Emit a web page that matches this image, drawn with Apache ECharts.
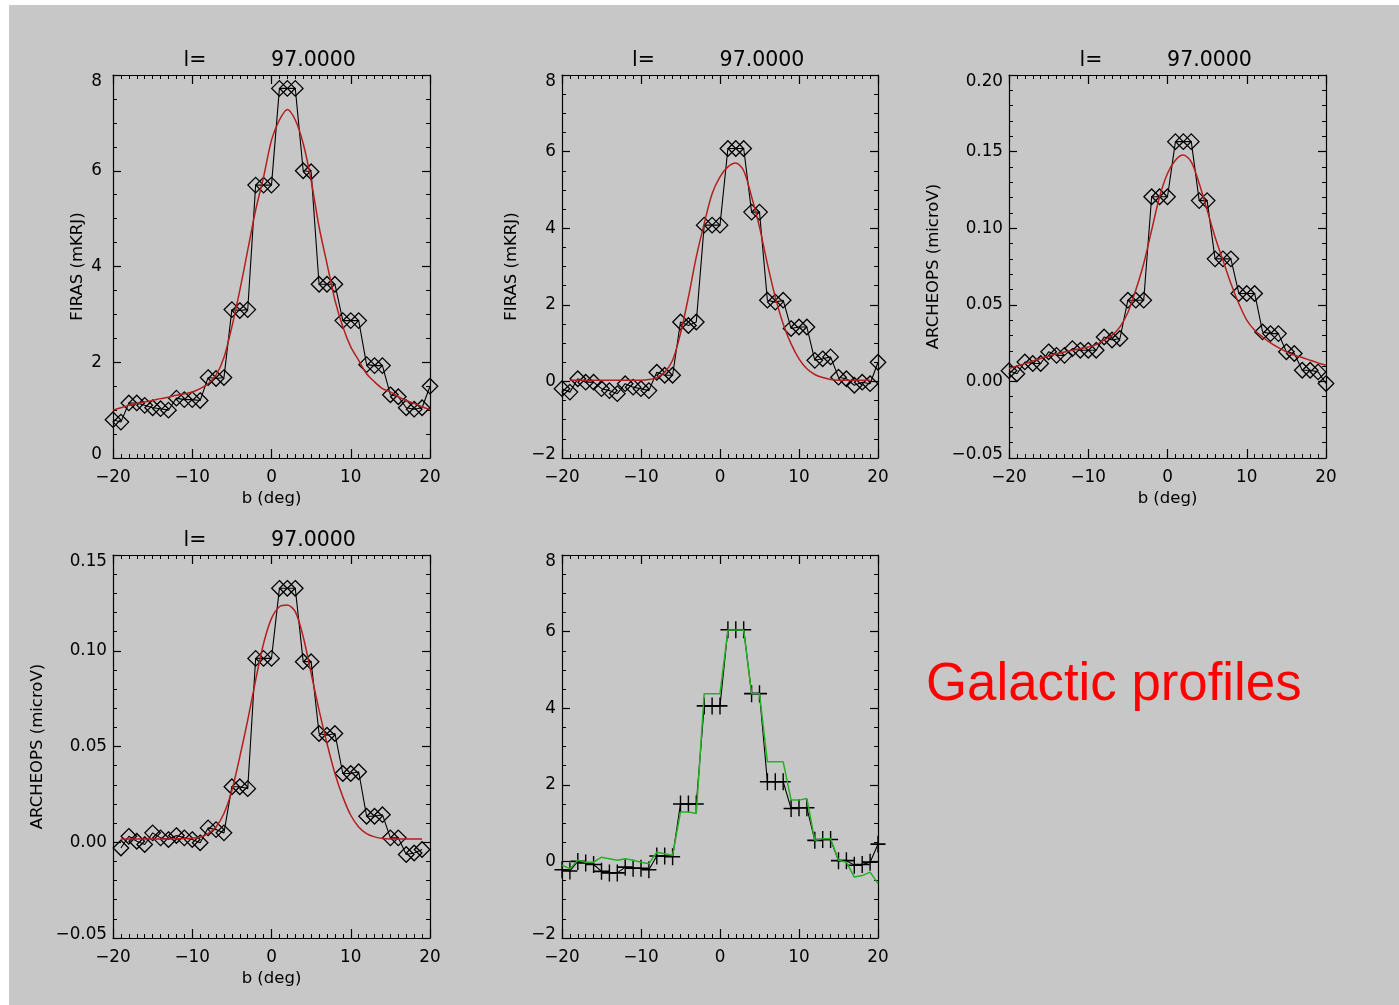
<!DOCTYPE html>
<html>
<head>
<meta charset="utf-8">
<script src="https://cdn.jsdelivr.net/npm/echarts@6/dist/echarts.min.js"></script>
<style>
html,body{margin:0;padding:0;background:#fff;}
#chart{width:1399px;height:1005px;}
</style>
</head>
<body>
<div id="chart"></div>
<script>
// ---------------- data ----------------
const bFull = [-20,-19,-18,-17,-16,-15,-14,-13,-12,-11,-10,-9,-8,-7,-6,-5,-4,-3,-2,-1,0,1,2,3,4,5,6,7,8,9,10,11,12,13,14,15,16,17,18,19,20];
const bInner = [-19,-18,-17,-16,-15,-14,-13,-12,-11,-10,-9,-8,-7,-6,-5,-4,-3,-2,-1,0,1,2,3,4,5,6,7,8,9,10,11,12,13,14,15,16,17,18,19];
const xTicks = [-20,-10,0,10,20];

// panel 1 : FIRAS
const firas1 = [0.80,0.75,1.15,1.15,1.10, 1.05,1.03,1.00,1.25,1.22, 1.22,1.20,1.68,1.66,1.68, 3.10,3.08,3.10,5.70,5.70,
                5.70,7.72,7.72,7.72,6.00, 5.98,3.63,3.63,3.63,2.87, 2.87,2.87,1.95,1.93,1.93, 1.32,1.28,1.05,1.02,1.05, 1.50];
const fit1 = [1.00,1.05,1.10,1.14,1.17, 1.20,1.24,1.27,1.31,1.34, 1.38,1.45,1.55,1.73,2.10, 2.74,3.50,4.34,5.18,5.87,
              6.64,7.06,7.28,7.06,6.57, 5.80,4.83,4.06,3.30,2.74, 2.32,2.04,1.76,1.59,1.45, 1.38,1.28,1.20,1.14,1.07, 1.01];

// panel 2 : FIRAS
const firas2 = [-0.19,-0.28,0.07,-0.02,-0.02, -0.19,-0.24,-0.32,-0.06,-0.15, -0.19,-0.24,0.24,0.16,0.16, 1.55,1.46,1.55,4.08,4.08,
                4.08,6.08,6.08,6.08,4.42, 4.42,2.12,2.07,2.12,1.38, 1.42,1.42,0.55,0.59,0.64, 0.11,0.07,-0.10,-0.02,-0.06, 0.50];
const fit2 = [0.03,0.03,0.03,0.03,0.03, 0.03,0.03,0.03,0.03,0.03, 0.05,0.10,0.24,0.55,1.25, 2.20,3.25,4.12,4.90,5.34,
              5.60,5.70,5.50,4.82,4.03, 3.07,2.20,1.50,0.98,0.59, 0.33,0.18,0.10,0.05,0.03, 0.03,0.03,0.03,0.03];

// panel 3 : ARCHEOPS
const archeops3 = [0.0070,0.0050,0.0127,0.0117,0.0117, 0.0193,0.0170,0.0170,0.0214,0.0203, 0.0203,0.0203,0.0290,0.0270,0.0280,
                   0.0530,0.0530,0.0530,0.1205,0.1205, 0.1205,0.1565,0.1565,0.1565,0.1180, 0.1180,0.0800,0.0800,0.0800,0.0574,
                   0.0574,0.0574,0.0323,0.0312,0.0312, 0.0193,0.0182,0.0073,0.0073,0.0062, -0.0014];
const fit3 = [0.0084,0.0100,0.0116,0.0133,0.0149, 0.0165,0.0180,0.0192,0.0203,0.0214, 0.0225,0.0240,0.0270,0.0300,0.0356,
              0.0450,0.0596,0.0770,0.0987,0.1205, 0.1357,0.1444,0.1477,0.1433,0.1292, 0.1118,0.0943,0.0790,0.0639,0.0508,
              0.0400,0.0334,0.0290,0.0251,0.0220, 0.0193,0.0171,0.0156,0.0138,0.0121, 0.0105];

// panel 4 : ARCHEOPS
const archeops4 = [-0.0030,0.0031,0.0005,-0.0012,0.0049, 0.0023,0.0014,0.0035,0.0023,0.0014, -0.0003,0.0075,0.0066,0.0049,0.0290,
                   0.0290,0.0280,0.0960,0.0960,0.0960, 0.1326,0.1326,0.1326,0.0943,0.0943, 0.0568,0.0559,0.0568,0.0359,0.0359,
                   0.0368,0.0136,0.0136,0.0144,0.0023, 0.0023,-0.0064,-0.0056,-0.0038];
const fit4 = [0.0017,0.0017,0.0017,0.0017,0.0017, 0.0017,0.0017,0.0018,0.0019,0.0021, 0.0026,0.0045,0.0080,0.0150,0.0270,
              0.0446,0.0638,0.0847,0.1038,0.1169, 0.1230,0.1239,0.1204,0.1073,0.0882, 0.0690,0.0516,0.0359,0.0237,0.0141,
              0.0080,0.0045,0.0028,0.0019,0.0017, 0.0017,0.0017,0.0017,0.0017];

// panel 5 : comparison (black crosses, green line)
const black5 = [-0.22,-0.25,0.00,-0.04,-0.08, -0.26,-0.30,-0.30,-0.15,-0.18, -0.18,-0.22,0.14,0.14,0.12, 1.50,1.50,1.50,4.06,4.06,
                4.06,6.05,6.05,6.05,4.38, 4.38,2.08,2.08,2.08,1.38, 1.40,1.40,0.55,0.57,0.57, 0.02,0.02,-0.10,-0.08,-0.02, 0.45];
const green5 = [-0.10,-0.19,0.03,-0.02,-0.02, 0.11,0.07,0.03,0.07,0.03, -0.02,-0.06,0.24,0.20,0.16, 1.29,1.29,1.25,4.38,4.38,
                4.38,6.04,6.04,6.04,4.38, 4.38,2.60,2.60,2.60,1.60, 1.60,1.64,0.55,0.59,0.59, 0.03,-0.02,-0.41,-0.37,-0.28, -0.58];

const titleLeft = 'l=';
const titleRight = '97.0000';
const sideText = 'Galactic profiles';

// ---------------- layout & style ----------------
const FONT = 'DejaVu Sans';
const TICKFS = 16.8;
const panels = [
  {box:[113,75,317,383], ymin:0, ymax:8, yint:2, yminor:4, dec:0, yname:'FIRAS (mKRJ)', ynameGap:27, xname:'b (deg)', ylm:11, title:true},
  {box:[562,75,316,383], ymin:-2, ymax:8, yint:2, yminor:4, dec:0, yname:'FIRAS (mKRJ)', ynameGap:42, xname:'', ylm:6, title:true},
  {box:[1009,75,317,383], ymin:-0.05, ymax:0.20, yint:0.05, yminor:5, dec:2, yname:'ARCHEOPS (microV)', ynameGap:67, xname:'b (deg)', ylm:6, title:true},
  {box:[113,555,317,383], ymin:-0.05, ymax:0.15, yint:0.05, yminor:5, dec:2, yname:'ARCHEOPS (microV)', ynameGap:67, xname:'b (deg)', ylm:6, title:true},
  {box:[562,555,316,383], ymin:-2, ymax:8, yint:2, yminor:4, dec:0, yname:'', xname:'', ylm:6, title:false}
];

function fmt(v, dec) {
  if (Math.abs(v) < 1e-9) v = 0;
  return v.toFixed(dec).replace('-', '\u2212');
}
function pairs(xs, ys) { return xs.map((x, i) => [x, ys[i]]); }

const lineCol = '#000';
const grids = [], xAxes = [], yAxes = [];
panels.forEach((p, gi) => {
  grids.push({left:p.box[0], top:p.box[1], width:p.box[2], height:p.box[3], containLabel:false, outerBoundsMode:'none'});
  const common = {
    type:'value', gridIndex:gi,
    axisLine:{show:true, onZero:false, lineStyle:{color:lineCol, width:1.2}},
    splitLine:{show:false}, minorSplitLine:{show:false},
    nameMoveOverlap:false
  };
  ['bottom','top'].forEach((pos) => {
    xAxes.push(Object.assign({}, common, {
      position:pos, min:xTicks[0], max:xTicks[xTicks.length-1], interval:10,
      axisTick:{show:true, inside:true, length:9, lineStyle:{color:lineCol, width:1.2}},
      minorTick:{show:true, splitNumber:10, length:4, lineStyle:{color:lineCol, width:1}},
      axisLabel:{show:pos === 'bottom', margin:11, color:'#000', fontFamily:FONT, fontSize:TICKFS,
                 formatter:(v) => fmt(v, 0)},
      name: pos === 'bottom' ? p.xname : '',
      nameLocation:'middle', nameGap:32,
      nameTextStyle:{color:'#000', fontFamily:FONT, fontSize:16.5}
    }));
  });
  ['left','right'].forEach((pos) => {
    yAxes.push(Object.assign({}, common, {
      position:pos, min:p.ymin, max:p.ymax, interval:p.yint,
      axisTick:{show:true, inside:true, length:8, lineStyle:{color:lineCol, width:1.2}},
      minorTick:{show:true, splitNumber:p.yminor, length:4, lineStyle:{color:lineCol, width:1}},
      axisLabel:{show:pos === 'left', margin:p.ylm, color:'#000', fontFamily:FONT, fontSize:TICKFS,
        formatter:(v) => {
          const s = fmt(v, p.dec);
          if (Math.abs(v - p.ymax) < 1e-9) return '{hi|' + s + '}';
          if (Math.abs(v - p.ymin) < 1e-9) return '{lo|' + s + '}';
          return s;
        },
        rich:{
          hi:{padding:[13,0,0,0], color:'#000', fontFamily:FONT, fontSize:TICKFS},
          lo:{padding:[0,0,7,0], color:'#000', fontFamily:FONT, fontSize:TICKFS}
        }
      },
      name: pos === 'left' ? p.yname : '',
      nameLocation:'middle', nameGap:p.ynameGap, nameRotate:90,
      nameTextStyle:{color:'#000', fontFamily:FONT, fontSize:16.5}
    }));
  });
});

function diamonds(gi, xs, ys) {
  return {type:'line', xAxisIndex:2*gi, yAxisIndex:2*gi, data:pairs(xs, ys),
    symbol:'diamond', symbolSize:15.5, showSymbol:true, clip:true, silent:true, z:2,
    lineStyle:{color:'#000', width:1.1},
    itemStyle:{color:'rgba(0,0,0,0)', borderColor:'#000', borderWidth:1.3}};
}
function crosses(gi, xs, ys) {
  return {type:'line', xAxisIndex:2*gi, yAxisIndex:2*gi, data:pairs(xs, ys),
    symbol:'path://M0,8L16,8M8,0L8,16', symbolSize:[15,17], showSymbol:true, clip:true, silent:true, z:2,
    lineStyle:{color:'#000', width:1.1},
    itemStyle:{color:'rgba(0,0,0,0)', borderColor:'#000', borderWidth:1.5}};
}
function curve(gi, xs, ys, color, smooth) {
  return {type:'line', xAxisIndex:2*gi, yAxisIndex:2*gi, data:pairs(xs, ys),
    symbol:'none', showSymbol:false, clip:true, silent:true, z:3, smooth:smooth,
    lineStyle:{color:color, width:1.5}};
}
const RED = '#b41f1f';
const GREEN = '#26b026';
const series = [
  diamonds(0, bFull, firas1), curve(0, bFull, fit1, RED, 0.3),
  diamonds(1, bFull, firas2), curve(1, bInner, fit2, RED, 0.3),
  diamonds(2, bFull, archeops3), curve(2, bFull, fit3, RED, 0.3),
  diamonds(3, bInner, archeops4), curve(3, bInner, fit4, RED, 0.3),
  crosses(4, bFull, black5), curve(4, bFull, green5, GREEN, false)
];

// titles above panels 1-4
const graphics = [
  {type:'rect', shape:{x:0, y:0, width:9, height:1005}, style:{fill:'#fff'}, silent:true},
  {type:'rect', shape:{x:0, y:0, width:1399, height:5}, style:{fill:'#fff'}, silent:true}
];
panels.forEach((p) => {
  if (!p.title) return;
  const cx = p.box[0] + p.box[2] / 2;
  const ty = p.box[1] - 14.5;
  graphics.push({type:'text', x:cx - 76.5, y:ty, silent:true,
    style:{text:titleLeft, fill:'#000', fontFamily:FONT, fontSize:20.5, align:'center', verticalAlign:'middle'}});
  graphics.push({type:'text', x:cx + 42, y:ty, silent:true,
    style:{text:titleRight, fill:'#000', fontFamily:FONT, fontSize:20.5, align:'center', verticalAlign:'middle'}});
});
graphics.push({type:'text', x:926, y:685, silent:true,
  style:{text:sideText, fill:'#ff0000', fontFamily:'Liberation Sans', fontSize:52.8, align:'left', verticalAlign:'middle'}});

const chart = echarts.init(document.getElementById('chart'), null, {renderer:'canvas', width:1399, height:1005});
chart.setOption({
  animation:false,
  backgroundColor:'#c7c7c7',
  grid:grids,
  xAxis:xAxes,
  yAxis:yAxes,
  series:series,
  graphic:{elements:graphics}
});
</script>
</body>
</html>
